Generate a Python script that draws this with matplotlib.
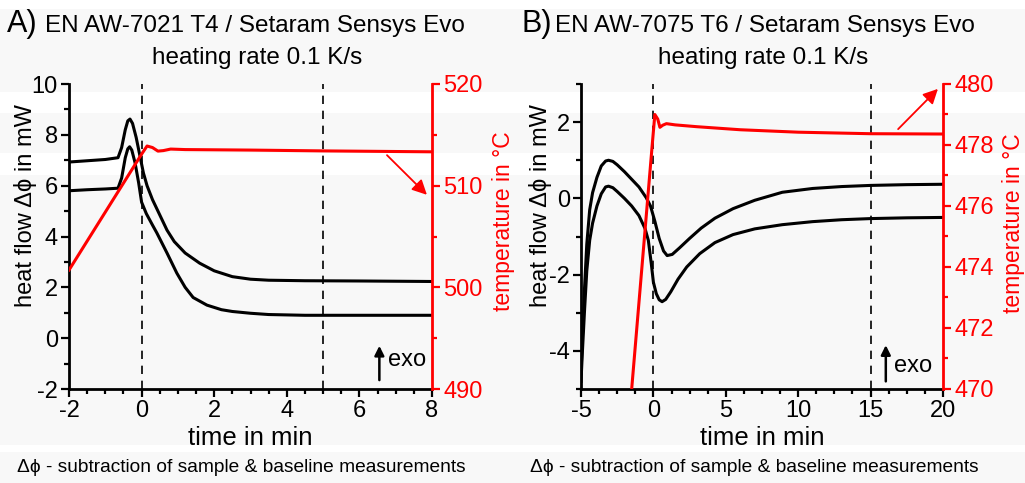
import matplotlib
matplotlib.use("Agg")
import matplotlib.pyplot as plt
from matplotlib.patches import Rectangle
from matplotlib.ticker import MultipleLocator

plt.rcParams['font.family'] = ['Liberation Sans', 'DejaVu Sans']
plt.rcParams['axes.unicode_minus'] = False

# ---------------- data: panel A (EN AW-7021 T4) ----------------
a_time_upper = [-2.0, -1.5, -1.0, -0.65, -0.55, -0.45, -0.38, -0.32, -0.25, -0.15, -0.05, 0.05, 0.15,
                0.3, 0.5, 0.7, 0.9, 1.2, 1.6, 2.0, 2.5, 3.0, 3.5, 4.5, 6.0, 8.0]
a_flow_upper = [6.93, 6.98, 7.03, 7.1, 7.5, 8.2, 8.55, 8.62, 8.45, 7.9, 7.2, 6.5, 6.0,
                5.45, 4.85, 4.25, 3.8, 3.35, 2.95, 2.65, 2.42, 2.32, 2.28, 2.26, 2.25, 2.23]
a_time_lower = [-2.0, -1.5, -1.0, -0.65, -0.55, -0.45, -0.38, -0.33, -0.27, -0.18, -0.08, 0.0, 0.13,
                0.3, 0.42, 0.7, 0.97, 1.2, 1.42, 1.8, 2.2, 2.5, 3.0, 3.5, 4.5, 6.0, 8.0]
a_flow_lower = [5.8, 5.84, 5.87, 5.9, 6.3, 7.1, 7.45, 7.53, 7.4, 6.9, 6.1, 5.35, 4.9,
                4.45, 4.14, 3.35, 2.56, 2.0, 1.6, 1.3, 1.12, 1.05, 0.98, 0.93, 0.9, 0.9, 0.9]
a_time_temp = [-2.0, 0.0, 0.15, 0.3, 0.45, 0.6, 0.8, 1.2, 3.0, 5.0, 8.0]
a_temp = [501.7, 513.1, 513.9, 513.75, 513.4, 513.45, 513.6, 513.55, 513.5, 513.42, 513.33]

# ---------------- data: panel B (EN AW-7075 T6) ----------------
b_time_upper = [-5.0, -4.9, -4.75, -4.6, -4.4, -4.2, -3.9, -3.6, -3.3, -3.1, -2.8, -2.5, -2.0, -1.5,
                -1.0, -0.5, -0.2, 0.1, 0.4, 0.7, 0.95, 1.3, 1.8, 2.5, 3.3, 4.25, 5.5, 7.0, 8.9,
                11.0, 13.0, 15.0, 17.5, 20.0]
b_flow_upper = [-4.6, -3.6, -2.3, -1.2, -0.3, 0.15, 0.55, 0.85, 0.98, 1.0, 0.97, 0.88, 0.7, 0.5,
                0.3, 0.02, -0.2, -0.6, -1.05, -1.38, -1.5, -1.47, -1.3, -1.05, -0.78, -0.52, -0.27, -0.05, 0.16,
                0.26, 0.31, 0.34, 0.36, 0.37]
b_time_lower = [-5.0, -4.9, -4.75, -4.6, -4.4, -4.2, -3.9, -3.6, -3.3, -3.1, -2.8, -2.5, -2.0, -1.5,
                -1.0, -0.58, -0.35, -0.15, 0.0, 0.2, 0.4, 0.6, 0.85, 1.2, 1.7, 2.3, 3.2, 4.25, 5.5, 7.0,
                8.9, 11.0, 13.0, 15.0, 17.5, 20.0]
b_flow_lower = [-4.8, -4.0, -2.9, -1.9, -1.1, -0.65, -0.2, 0.12, 0.3, 0.32, 0.28, 0.18, 0.0, -0.2,
                -0.45, -0.79, -1.1, -1.7, -2.2, -2.5, -2.66, -2.71, -2.65, -2.45, -2.12, -1.8, -1.45, -1.16, -0.95, -0.8,
                -0.69, -0.61, -0.56, -0.53, -0.51, -0.5]
b_time_temp = [-1.5, -0.1, 0.1, 0.3, 0.45, 0.65, 0.9, 1.5, 3.0, 6.0, 10.0, 15.0, 20.0]
b_temp = [470.0, 477.9, 479.0, 478.85, 478.58, 478.65, 478.7, 478.66, 478.6, 478.5, 478.42, 478.37, 478.36]

# ---------------- texts ----------------
title_a = "EN AW-7021 T4 / Setaram Sensys Evo"
title_b = "EN AW-7075 T6 / Setaram Sensys Evo"
subtitle = "heating rate 0.1 K/s"
xlab = "time in min"
ylab_left = "heat flow \u0394\u03d5 in mW"
ylab_right = "temperature in \u00b0C"
footnote = "\u0394\u03d5 - subtraction of sample & baseline measurements"

W, H = 1025, 483
fig = plt.figure(figsize=(W / 100, H / 100), dpi=100)
fig.patch.set_facecolor('#f8f8f8')

# light background bands (white stripes)
for y0, y1 in [(0, 9), (92, 113), (153, 175), (445, 452)]:
    fig.patches.append(Rectangle((0, 1 - y1 / H), 1, (y1 - y0) / H, transform=fig.transFigure,
                                 facecolor='white', edgecolor='none', zorder=-10))

RED = '#ff0000'
TICK_FS = 17
LAB_FS = 17


def px_box(x0, x1, y0, y1):
    return [x0 / W, 1 - y1 / H, (x1 - x0) / W, (y1 - y0) / H]


def style_axes(ax, axr):
    ax.spines['top'].set_visible(False)
    axr.spines['top'].set_visible(False)
    ax.spines['right'].set_visible(False)
    axr.spines['left'].set_visible(False)
    axr.spines['bottom'].set_visible(False)
    for s in ['left', 'bottom']:
        ax.spines[s].set_linewidth(2.0)
    axr.spines['right'].set_linewidth(2.0)
    axr.spines['right'].set_color(RED)
    ax.set_facecolor('none')
    axr.set_facecolor('none')
    ax.tick_params(which='major', direction='out', length=6, width=1.6, labelsize=TICK_FS, pad=2)
    ax.tick_params(which='minor', direction='out', length=3.5, width=1.6)
    axr.tick_params(which='major', direction='out', length=6, width=1.6, labelsize=TICK_FS, pad=2,
                    colors=RED)
    axr.tick_params(which='minor', direction='out', length=3.5, width=1.6, colors=RED)


def exo_arrow(ax, x, y0, y1, tx, ty):
    ax.annotate('', xy=(x, y1), xytext=(x, y0),
                arrowprops=dict(arrowstyle='-|>', color='black', lw=1.8, mutation_scale=14,
                                shrinkA=0, shrinkB=0))
    ax.text(tx, ty, 'exo', fontsize=17, ha='left', va='center')


# ---------------- panel A ----------------
axA = fig.add_axes(px_box(69, 432, 84, 389))
axAr = axA.twinx()
axA.set_xlim(-2, 8)
axA.set_ylim(-2, 10)
axAr.set_ylim(490, 520)
axA.xaxis.set_major_locator(MultipleLocator(2))
axA.xaxis.set_minor_locator(MultipleLocator(0.5))
axA.yaxis.set_major_locator(MultipleLocator(2))
axA.yaxis.set_minor_locator(MultipleLocator(1))
axAr.yaxis.set_major_locator(MultipleLocator(10))
axAr.yaxis.set_minor_locator(MultipleLocator(5))
style_axes(axA, axAr)
axA.axvline(0, color='black', lw=1.2, ls=(0, (5, 4)))
axA.axvline(5, color='black', lw=1.2, ls=(0, (5, 4)))
axA.plot(a_time_upper, a_flow_upper, color='black', lw=2.2)
axA.plot(a_time_lower, a_flow_lower, color='black', lw=2.2)
axAr.plot(a_time_temp, a_temp, color=RED, lw=2.2)
axAr.annotate('', xy=(7.86, 509.1), xytext=(6.76, 513.0),
              arrowprops=dict(arrowstyle='-|>', color=RED, lw=1.3, mutation_scale=22,
                              shrinkA=0, shrinkB=0))
exo_arrow(axA, 6.55, -1.65, -0.3, 6.78, -0.85)
axA.set_xlabel(xlab, fontsize=18.5, labelpad=3)
axA.set_ylabel(ylab_left, fontsize=LAB_FS)
axA.yaxis.set_label_coords(-0.088, 0.60)
axAr.set_ylabel(ylab_right, fontsize=16.5, color=RED)
axAr.yaxis.set_label_coords(1.165, 0.55)

# ---------------- panel B ----------------
axB = fig.add_axes(px_box(581, 943, 84, 389))
axBr = axB.twinx()
axB.set_xlim(-5, 20)
axB.set_ylim(-5, 3)
axBr.set_ylim(470, 480)
axB.xaxis.set_major_locator(MultipleLocator(5))
axB.xaxis.set_minor_locator(MultipleLocator(1.25))
axB.yaxis.set_major_locator(MultipleLocator(2))
axB.yaxis.set_minor_locator(MultipleLocator(1))
axBr.yaxis.set_major_locator(MultipleLocator(2))
axBr.yaxis.set_minor_locator(MultipleLocator(1))
style_axes(axB, axBr)
axB.axvline(0, color='black', lw=1.2, ls=(0, (5, 4)))
axB.axvline(15, color='black', lw=1.2, ls=(0, (5, 4)))
axB.plot(b_time_upper, b_flow_upper, color='black', lw=2.2)
axB.plot(b_time_lower, b_flow_lower, color='black', lw=2.2)
axBr.plot(b_time_temp, b_temp, color=RED, lw=2.2)
axBr.annotate('', xy=(19.65, 479.84), xytext=(16.9, 478.52),
              arrowprops=dict(arrowstyle='-|>', color=RED, lw=1.3, mutation_scale=22,
                              shrinkA=0, shrinkB=0))
exo_arrow(axB, 16.05, -4.8, -3.85, 16.6, -4.4)
axB.set_xlabel(xlab, fontsize=18.5, labelpad=3)
axB.set_ylabel(ylab_left, fontsize=LAB_FS)
axB.yaxis.set_label_coords(-0.08, 0.60)
axBr.set_ylabel(ylab_right, fontsize=16.5, color=RED)
axBr.yaxis.set_label_coords(1.163, 0.545)

# ---------------- titles & footnotes ----------------
fig.text(7 / W, 1 - 24 / H, 'A)', fontsize=22, ha='left', va='center')
fig.text(45 / W, 1 - 26 / H, title_a, fontsize=17.5, ha='left', va='center')
fig.text(257 / W, 1 - 58 / H, subtitle, fontsize=17.5, ha='center', va='center')
fig.text(521 / W, 1 - 24 / H, 'B)', fontsize=22, ha='left', va='center')
fig.text(555 / W, 1 - 26 / H, title_b, fontsize=17.5, ha='left', va='center')
fig.text(763 / W, 1 - 58 / H, subtitle, fontsize=17.5, ha='center', va='center')
fig.text(17 / W, 1 - 468 / H, footnote, fontsize=13.8, ha='left', va='center')
fig.text(530 / W, 1 - 468 / H, footnote, fontsize=13.8, ha='left', va='center')

fig.savefig('out.png', dpi=100, facecolor=fig.get_facecolor())
